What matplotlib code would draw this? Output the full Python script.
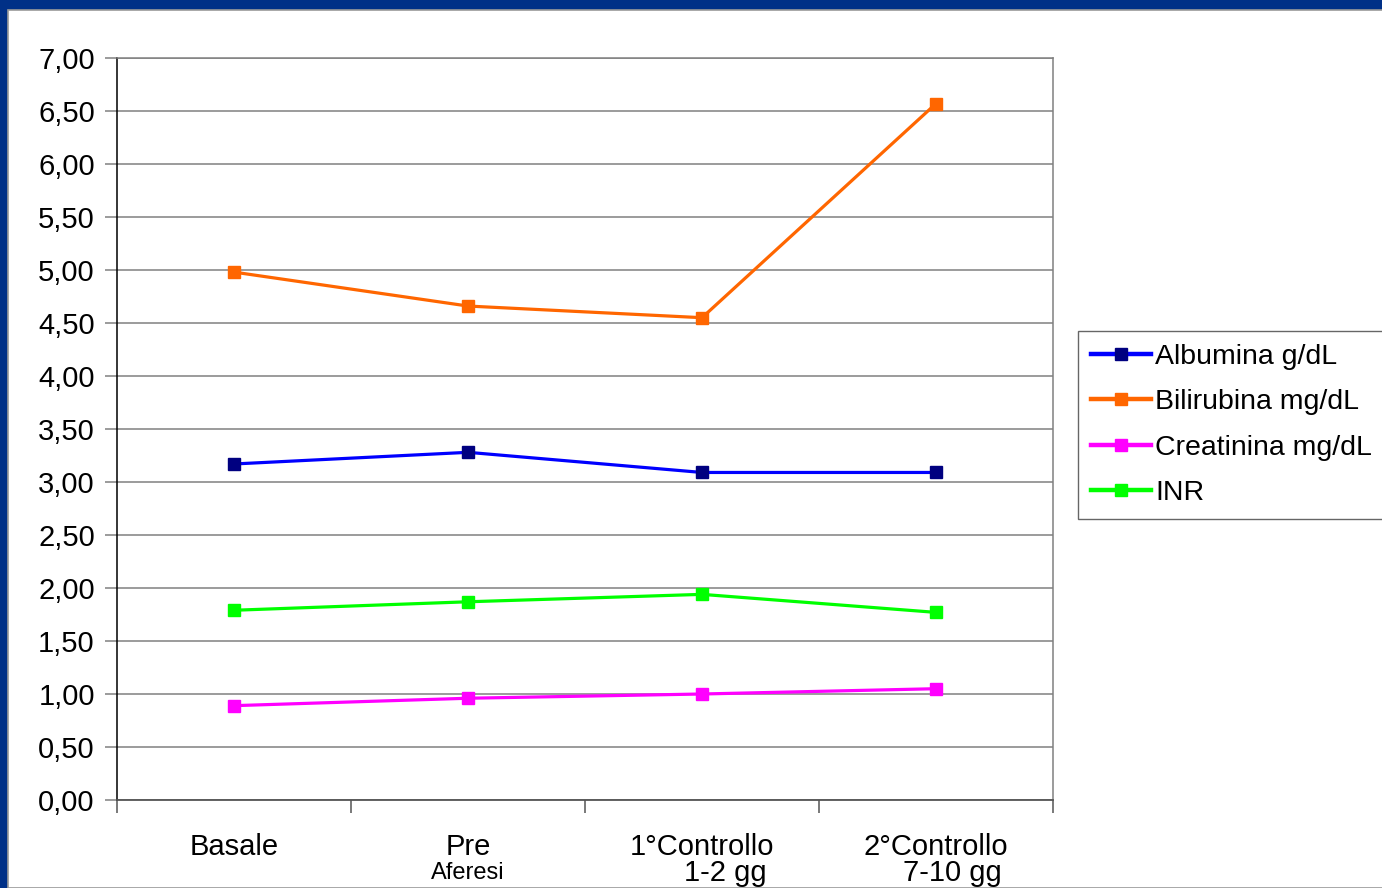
import matplotlib
matplotlib.use("Agg")
import matplotlib.pyplot as plt
import matplotlib.transforms as mtransforms
from matplotlib.patches import Rectangle

plt.rcParams['font.family'] = ['Liberation Sans', 'DejaVu Sans']

categories = ["Basale", "Pre", "1°Controllo", "2°Controllo"]
sublabels = ["", "Aferesi", "1-2 gg", "7-10 gg"]
albumina = [3.17, 3.28, 3.09, 3.09]
bilirubina = [4.98, 4.66, 4.55, 6.57]
creatinina = [0.89, 0.96, 1.00, 1.05]
inr = [1.79, 1.87, 1.94, 1.77]
y_ticks = [0.0, 0.5, 1.0, 1.5, 2.0, 2.5, 3.0, 3.5, 4.0, 4.5, 5.0, 5.5, 6.0, 6.5, 7.0]

series = [
    ("Albumina g/dL", albumina, "#0000ff", "#000080"),
    ("Bilirubina mg/dL", bilirubina, "#ff6600", "#ff6600"),
    ("Creatinina mg/dL", creatinina, "#ff00ff", "#ff00ff"),
    ("INR", inr, "#00ff00", "#00ff00"),
]

fig = plt.figure(figsize=(13.82, 8.88), dpi=100)
fig.patch.set_facecolor("#003087")
# white slide area inside the blue frame
fig.patches.append(Rectangle((8 / 1382, 0), 1, (888 - 10) / 888, transform=fig.transFigure,
                             facecolor="white", edgecolor="#9a9a9a", linewidth=1.2, zorder=-10))

ax = fig.add_axes([117 / 1382, (888 - 800) / 888, (1053 - 117) / 1382, (800 - 58) / 888])
ax.set_facecolor("white")

x = list(range(len(categories)))
for name, vals, lc, mc in series:
    ax.plot(x, vals, color=lc, linewidth=2.3, marker="s", markersize=8,
            markerfacecolor=mc, markeredgecolor=mc, label=name, zorder=3)

ax.set_xlim(-0.5, len(categories) - 0.5)
ax.set_ylim(0, 7)
ax.set_yticks(y_ticks)
ax.set_yticklabels([f"{v:.2f}".replace(".", ",") for v in y_ticks], fontsize=21)
ax.yaxis.grid(True, color="#808080", linewidth=1.1)
ax.set_axisbelow(True)

# boundary ticks between categories, labels on minor ticks
ax.set_xticks([i - 0.5 for i in range(len(categories) + 1)])
ax.set_xticklabels([])
ax.set_xticks(x, minor=True)
ax.set_xticklabels(categories, minor=True, fontsize=21)
ax.tick_params(axis="x", which="major", length=9, color="#555555", width=1.1)
ax.tick_params(axis="x", which="minor", length=0, pad=24)
ax.tick_params(axis="y", length=9, color="#808080", width=1.1, pad=7)

for s in ["top", "right"]:
    ax.spines[s].set_color("#808080")
    ax.spines[s].set_linewidth(1.1)
ax.spines["bottom"].set_color("#555555")
ax.spines["bottom"].set_linewidth(1.3)
ax.spines["left"].set_color("black")
ax.spines["left"].set_linewidth(1.1)

trans = mtransforms.blended_transform_factory(ax.transData, ax.transAxes)
sub_offsets = [0, 0, 0.1, 0.07]
sub_sizes = [18, 17, 21, 21]
for i, lab in enumerate(sublabels):
    if lab:
        ax.text(i + sub_offsets[i], -0.098, lab, transform=trans, ha="center", va="center",
                fontsize=sub_sizes[i])

leg = ax.legend(loc="upper left", bbox_to_anchor=(1078 / 1382, (888 - 331) / 888),
                bbox_transform=fig.transFigure, fontsize=20.5, frameon=True, fancybox=False,
                edgecolor="#404040", handlelength=2.1, handletextpad=0.15, labelspacing=0.68,
                borderpad=0.45, borderaxespad=0)
leg.get_frame().set_linewidth(1.0)
for h in leg.get_lines():
    h.set_linewidth(3.2)

fig.savefig("out.png", dpi=100, facecolor=fig.get_facecolor())
